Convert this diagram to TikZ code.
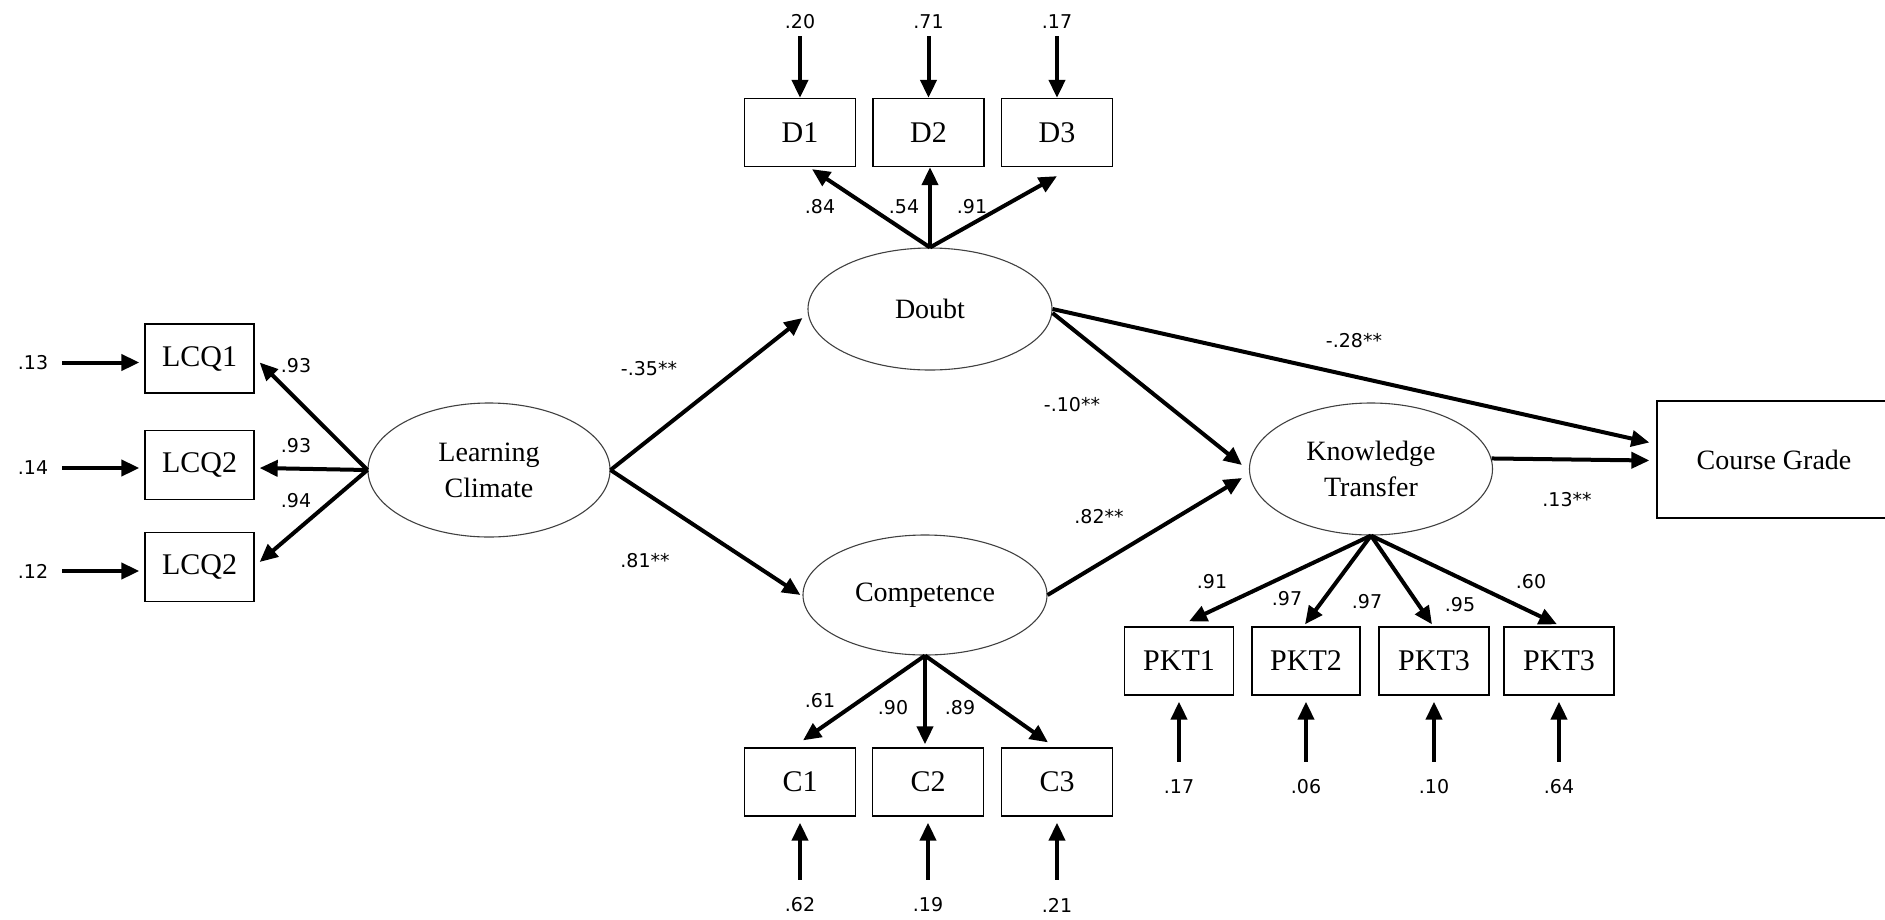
\documentclass[tikz,border=0pt]{standalone}
\usepackage{fontspec}
\setmainfont{Liberation Serif}
\newfontfamily\numfont{DejaVu Sans}
\usetikzlibrary{shapes.geometric,arrows.meta}
\begin{document}
\begin{tikzpicture}[x=1pt,y=-1pt,
 arr/.style={line width=4pt,-{Triangle[length=18pt,width=16pt]}},
 obs/.style={draw,line width=1.3pt,rectangle,minimum width=111pt,minimum height=68pt,inner sep=0pt,font=\fontsize{30}{34}\selectfont},
 lat/.style={draw=black!75,line width=1.1pt,ellipse,minimum width=244pt,minimum height=120pt,inner sep=0pt,align=center,font=\fontsize{28}{36}\selectfont},
 num/.style={inner sep=2pt,font=\numfont\fontsize{19}{22}\selectfont}]
\useasboundingbox (0,0) rectangle (1885,919);

% latent variables
\node[lat,minimum height=134pt,minimum width=242pt] (lc) at (489,470) {Learning\\Climate};
\node[lat,minimum height=122pt] (doubt) at (930,309) {Doubt};
\node[lat] (comp) at (925,595) {Competence};
\node[lat,minimum height=132pt,minimum width=243pt] (kt) at (1371,469) {Knowledge\\Transfer};

% observed variables
\node[obs,minimum width=109pt,minimum height=69pt] (lcq1) at (199.5,358.5) {LCQ1};
\node[obs,minimum width=109pt,minimum height=69pt] (lcq2) at (199.5,465) {LCQ2};
\node[obs,minimum width=109pt,minimum height=69pt] (lcq3) at (199.5,567) {LCQ2};
\node[obs] (d1) at (800,132.5) {D1};
\node[obs] (d2) at (928.5,132.5) {D2};
\node[obs] (d3) at (1057,132.5) {D3};
\node[obs] (c1) at (800,782) {C1};
\node[obs] (c2) at (928,782) {C2};
\node[obs] (c3) at (1057,782) {C3};
\node[obs,minimum width=109pt] (p1) at (1179,661) {PKT1};
\node[obs,minimum width=108pt] (p2) at (1306,661) {PKT2};
\node[obs,minimum width=110pt] (p3) at (1434,661) {PKT3};
\node[obs,minimum width=110pt] (p4) at (1559,661) {PKT3};
\node[obs,minimum width=234pt,minimum height=117pt,font=\fontsize{28}{32}\selectfont] (cg) at (1774,459.5) {Course Grade};

% error terms
\node[num] (e13) at (33,362.5) {.13};
\node[num] (e14) at (33,468) {.14};
\node[num] (e12) at (33,571) {.12};
\node[num] (ed1) at (800,22) {.20};
\node[num] (ed2) at (928.5,22) {.71};
\node[num] (ed3) at (1057,22) {.17};
\node[num] (ec1) at (800,905) {.62};
\node[num] (ec2) at (928,905) {.19};
\node[num] (ec3) at (1057,905) {.21};
\node[num] (ep1) at (1179,787) {.17};
\node[num] (ep2) at (1306,787) {.06};
\node[num] (ep3) at (1434,787) {.10};
\node[num] (ep4) at (1559,787) {.64};

\draw[arr,shorten <=12pt] (e13.east) -- ([xshift=-5pt,yshift=-4pt]lcq1.west);
\draw[arr,shorten <=12pt] (e14.east) -- ([xshift=-5pt,yshift=-3pt]lcq2.west);
\draw[arr,shorten <=12pt] (e12.east) -- ([xshift=-5pt,yshift=-4pt]lcq3.west);
\draw[arr,shorten <=5pt] (ed1.south) -- (d1.north);
\draw[arr,shorten <=5pt] (ed2.south) -- (d2.north);
\draw[arr,shorten <=5pt] (ed3.south) -- (d3.north);
\draw[arr,shorten <=16pt] (ec1.north) -- ([yshift=-6pt]c1.south);
\draw[arr,shorten <=16pt] (ec2.north) -- ([yshift=-6pt]c2.south);
\draw[arr,shorten <=16pt] (ec3.north) -- ([yshift=-6pt]c3.south);
\draw[arr,shorten <=16pt] (ep1.north) -- ([yshift=-6pt]p1.south);
\draw[arr,shorten <=16pt] (ep2.north) -- ([yshift=-6pt]p2.south);
\draw[arr,shorten <=16pt] (ep3.north) -- ([yshift=-6pt]p3.south);
\draw[arr,shorten <=16pt] (ep4.north) -- ([yshift=-6pt]p4.south);

% loadings
\draw[arr] (lc.west) -- ([xshift=5pt,yshift=-4pt]lcq1.east);
\draw[arr] (lc.west) -- ([xshift=5pt,yshift=-3pt]lcq2.east);
\draw[arr] (lc.west) -- ([xshift=5pt,yshift=5pt]lcq3.east);
\draw[arr] (doubt.north) -- ([xshift=12pt,yshift=-2pt]d1.south);
\draw[arr] (doubt.north) -- ([xshift=1.5pt]d2.south);
\draw[arr] (doubt.north) -- ([yshift=-9pt]d3.south);
\draw[arr] (comp.south) -- ([xshift=3pt,yshift=7pt]c1.north);
\draw[arr] (comp.south) -- ([xshift=-3pt,yshift=3pt]c2.north);
\draw[arr] (comp.south) -- ([xshift=-9pt,yshift=5pt]c3.north);
\draw[arr] (kt.south) -- ([xshift=10pt,yshift=5pt]p1.north);
\draw[arr] (kt.south) -- ([xshift=-1pt,yshift=2pt]p2.north);
\draw[arr] (kt.south) -- ([xshift=-2pt,yshift=2pt]p3.north);
\draw[arr] (kt.south) -- ([xshift=-2pt,yshift=2pt]p4.north);

% structural paths
\draw[arr] (lc.east) -- ([xshift=-5pt,yshift=-9pt]doubt.west);
\draw[arr] (lc.east) -- ([xshift=-2pt]comp.west);
\draw[arr] ([yshift=-4pt]doubt.east) -- ([xshift=-7pt,yshift=4pt]kt.west);
\draw[arr] (comp.east) -- ([xshift=-7pt,yshift=-9pt]kt.west);
\draw[arr] (doubt.east) -- ([xshift=-7pt,yshift=17pt]cg.west);
\draw[arr] (kt.5) -- ([xshift=-7pt,yshift=-1pt]cg.west);

% coefficient labels
\node[num] (l1) at (296,366) {.93};
\node[num] (l2) at (296,446) {.93};
\node[num] (l3) at (296,501) {.94};
\node[num] (l4) at (820,207) {.84};
\node[num] (l5) at (904,207) {.54};
\node[num] (l6) at (972,207) {.91};
\node[num] (l7) at (820,701) {.61};
\node[num] (l8) at (893,708) {.90};
\node[num] (l9) at (960,708) {.89};
\node[num] (l10) at (1212,582) {.91};
\node[num] (l11) at (1287,599) {.97};
\node[num] (l12) at (1367,602) {.97};
\node[num] (l13) at (1460,605) {.95};
\node[num] (l14) at (1531,582) {.60};
\node[num] (s1) at (649,369) {-.35**};
\node[num] (s2) at (645,561) {.81**};
\node[num] (s3) at (1072,405) {-.10**};
\node[num] (s4) at (1099,517) {.82**};
\node[num] (s5) at (1354,341) {-.28**};
\node[num] (s6) at (1567,500) {.13**};
\end{tikzpicture}
\end{document}
